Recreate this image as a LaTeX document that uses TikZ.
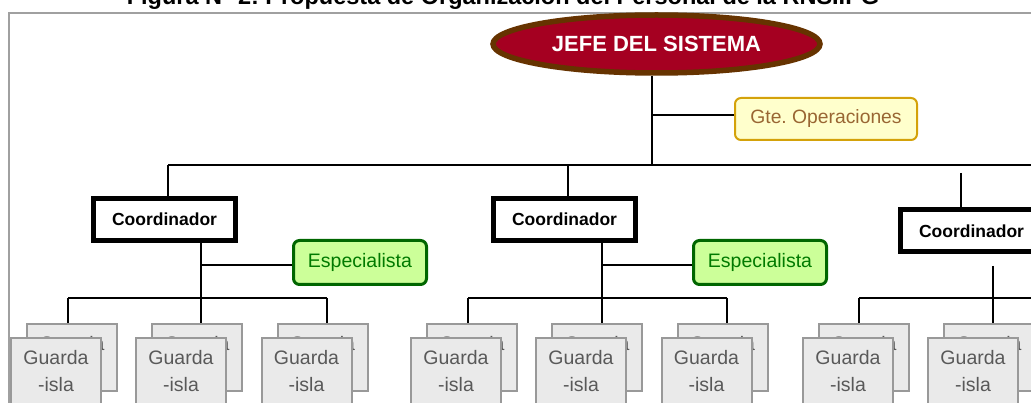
\documentclass[tikz,border=0pt]{standalone}
\usepackage{fontspec}
\setmainfont{Liberation Sans}
\usetikzlibrary{shapes.geometric,backgrounds}
\definecolor{jefefill}{HTML}{A50021}
\definecolor{jefeborder}{HTML}{663300}
\definecolor{gtefill}{HTML}{FFFFCC}
\definecolor{gteborder}{HTML}{D4A20A}
\definecolor{gtetext}{HTML}{996633}
\definecolor{espfill}{HTML}{CCFF99}
\definecolor{espborder}{HTML}{006600}
\definecolor{esptext}{HTML}{007A00}
\definecolor{guardfill}{HTML}{EAEAEA}
\definecolor{guardborder}{HTML}{999999}
\definecolor{guardtext}{HTML}{595959}
\definecolor{framegray}{HTML}{A0A0A0}
\frenchspacing
\begin{document}
\begin{tikzpicture}[x=1pt,y=-1pt,
 conn/.style={line width=1.4pt, black},
 jefe/.style={ellipse, draw=jefeborder, fill=jefefill, line width=5.5pt, minimum width=327pt, minimum height=58pt, inner sep=0pt, text=white, font=\bfseries\fontsize{22}{26}\selectfont},
 coordbox/.style={rectangle, draw=black, fill=white, line width=5pt, minimum width=142pt, minimum height=42pt, inner sep=0pt, font=\bfseries\fontsize{17.5}{21}\selectfont},
 espbox/.style={rectangle, rounded corners=6pt, draw=espborder, fill=espfill, line width=3pt, minimum width=133pt, minimum height=44pt, inner sep=0pt, text=esptext, font=\fontsize{19.5}{23}\selectfont},
 gtebox/.style={rectangle, rounded corners=6pt, draw=gteborder, fill=gtefill, line width=2pt, minimum width=182pt, minimum height=42pt, inner sep=0pt, text=gtetext, font=\fontsize{19.3}{22}\selectfont},
 guard/.style={rectangle, draw=guardborder, fill=guardfill, line width=2pt, minimum width=90pt, minimum height=67pt, inner sep=0pt, text=guardtext, align=center, font=\fontsize{19.5}{27}\selectfont},
]
\clip (0,0) rectangle (1031,403);
\draw[framegray, line width=1.5pt] (9,420) -- (9,13) -- (1045,13);

\node[anchor=base, font=\bfseries\fontsize{23.5}{26}\selectfont] (title) at (503,5) {Figura N° 2: Propuesta de Organización del Personal de la RNSIIPG};

% main nodes
\node[jefe] (jefe) at (656.5,44) {JEFE DEL SISTEMA};
\node[gtebox] (gte) at (826,119) {Gte. Operaciones};
\node[coordbox] (c1) at (164.5,219.5) {Coordinador};
\node[coordbox] (c2) at (564.5,219.5) {Coordinador};
\node[coordbox] (c3) at (971.5,231) {Coordinador};
\node[espbox] (e1) at (360,262.5) {Especialista};
\node[espbox] (e2) at (760,262.5) {Especialista};

% guard pairs: back then front
\foreach \n/\x in {g11/72, g12/197, g13/322.5, g21/472, g22/597, g23/722.5, g31/864, g32/989}{
  \node[guard] (\n b) at (\x,357.5) {Guarda\\-isla};
  \node[guard] (\n) at ({\x-16},371.5) {Guarda\\-isla};
}

% junction coordinates
\coordinate (j0) at (652,165);
\coordinate (jg) at (652,115);
\coordinate (tend) at (1045,165);
\coordinate (t1) at (168,165);
\coordinate (t2) at (568,165);
\coordinate (t3) at (961,173);
\coordinate (s1) at (201,265);
\coordinate (s2) at (602,265);
\coordinate (s3) at (993,266);
\coordinate (b11) at (68,298);
\coordinate (b12) at (201,298);
\coordinate (b13) at (327,298);
\coordinate (b21) at (468,298);
\coordinate (b22) at (602,298);
\coordinate (b23) at (727,298);
\coordinate (b31) at (859,298);
\coordinate (b32) at (993,298);
\coordinate (b3e) at (1045,298);

\begin{pgfonlayer}{background}
\draw[conn] (j0 |- jefe.south) -- (j0);
\draw[conn] (jg) -- (jg -| gte.west);
\draw[conn] (t1) -- (tend);
\draw[conn] (t1) -- (t1 |- c1.north);
\draw[conn] (t2) -- (t2 |- c2.north);
\draw[conn] (t3) -- (t3 |- c3.north);
% column 1
\draw[conn] (s1 |- c1.south) -- (b12 |- g12b.north);
\draw[conn] (s1) -- (s1 -| e1.west);
\draw[conn] (b11) -- (b13);
\draw[conn] (b11) -- (b11 |- g11b.north);
\draw[conn] (b13) -- (b13 |- g13b.north);
% column 2
\draw[conn] (s2 |- c2.south) -- (b22 |- g22b.north);
\draw[conn] (s2) -- (s2 -| e2.west);
\draw[conn] (b21) -- (b23);
\draw[conn] (b21) -- (b21 |- g21b.north);
\draw[conn] (b23) -- (b23 |- g23b.north);
% column 3
\draw[conn] (s3) -- (b32 |- g32b.north);
\draw[conn] (b31) -- (b3e);
\draw[conn] (b31) -- (b31 |- g31b.north);
\end{pgfonlayer}
\end{tikzpicture}
\end{document}
